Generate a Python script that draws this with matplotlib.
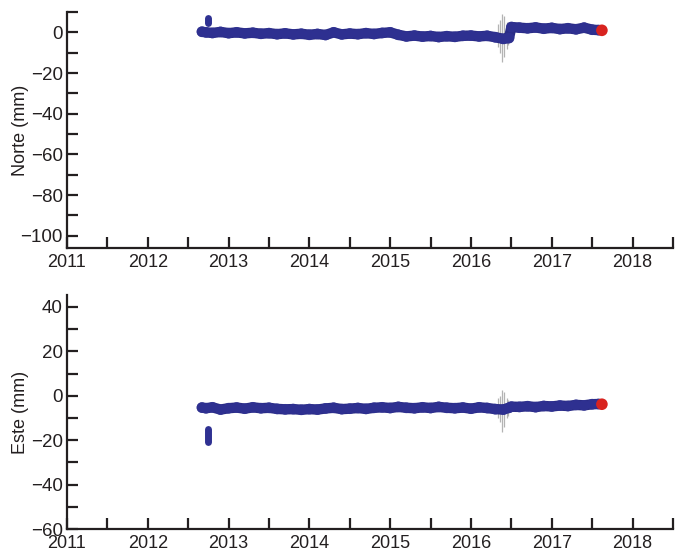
import matplotlib
matplotlib.use("Agg")
import matplotlib.pyplot as plt
from matplotlib.ticker import MultipleLocator, FuncFormatter

plt.rcParams['font.family'] = ['Liberation Sans Narrow', 'Liberation Sans', 'DejaVu Sans']
plt.rcParams['font.size'] = 13

# ---- data ----
t = [2012.67, 2012.72, 2012.80, 2012.90, 2013.00, 2013.10, 2013.20, 2013.30, 2013.40, 2013.50,
     2013.60, 2013.70, 2013.80, 2013.90, 2014.00, 2014.10, 2014.20, 2014.30, 2014.40, 2014.50,
     2014.60, 2014.70, 2014.80, 2014.90, 2015.00, 2015.10, 2015.20, 2015.30, 2015.40, 2015.50,
     2015.60, 2015.70, 2015.80, 2015.90, 2016.00, 2016.10, 2016.20, 2016.30, 2016.40, 2016.47,
     2016.50, 2016.60, 2016.70, 2016.80, 2016.90, 2017.00, 2017.10, 2017.20, 2017.30, 2017.40,
     2017.50, 2017.58]

norte = [0.3, 0.0, -0.3, 0.2, -0.4, 0.0, -0.5, -0.2, -0.7, -0.4,
         -0.9, -0.5, -1.0, -0.7, -1.2, -0.8, -1.3, 0.0, -1.0, -0.6,
         -0.9, -0.4, -0.8, -0.3, 0.0, -1.2, -2.0, -1.6, -2.1, -1.8,
         -2.3, -1.9, -2.2, -1.7, -1.6, -2.0, -1.7, -2.4, -3.2, -2.8,
         2.6, 2.3, 2.0, 2.4, 1.8, 2.2, 1.6, 2.0, 1.5, 2.3,
         1.3, 1.1]

este = [-5.3, -5.6, -5.2, -6.2, -5.6, -5.3, -5.8, -5.2, -5.6, -5.4,
        -5.9, -6.1, -6.0, -6.3, -6.0, -6.2, -5.7, -5.4, -6.0, -5.8,
        -5.5, -5.9, -5.4, -5.2, -5.5, -5.0, -5.4, -5.6, -5.2, -5.5,
        -5.0, -5.4, -5.6, -5.3, -5.8, -5.2, -5.5, -6.0, -6.2, -5.4,
        -4.9, -5.0, -4.7, -5.1, -4.6, -4.8, -4.4, -4.6, -4.1, -4.3,
        -3.8, -3.7]

# outliers
norte_out_t = [2012.75, 2012.75, 2012.75]
norte_out_v = [4.5, 5.8, 7.0]
este_out_t = [2012.75, 2012.75, 2012.75, 2012.75, 2012.75]
este_out_v = [-15.0, -16.5, -18.0, -19.5, -21.0]

# last (red) point
last_t = 2017.62
norte_last = 1.0
este_last = -3.8

# grey error bars near 2016.4
err_t = [2016.33, 2016.36, 2016.38, 2016.41, 2016.44, 2016.46]
norte_err_lo = [-7.0, -10.0, -14.5, -12.0, -8.0, -6.0]
norte_err_hi = [4.0, 6.0, 9.0, 8.0, 5.0, 4.0]
este_err_lo = [-10.0, -12.0, -16.5, -14.0, -10.0, -9.0]
este_err_hi = [-1.0, 0.0, 2.5, 1.5, -1.0, -2.0]

year_ticks = [2011, 2012, 2013, 2014, 2015, 2016, 2017, 2018]

NAVY = '#2a2c85'
NAVY2 = '#2f3192'
RED = '#d8231f'
TXT = '#231f20'

W, H = 687, 553
fig = plt.figure(figsize=(W / 100, H / 100), dpi=100)

left = 67 / W
width = (673 - 67) / W
ax1 = fig.add_axes([left, 1 - 248 / H, width, (248 - 12) / H])
ax2 = fig.add_axes([left, 1 - 529 / H, width, (529 - 295) / H])


def yfmt(v, pos):
    v = int(round(v))
    return ('\u2212' + str(-v)) if v < 0 else str(v)


def style(ax, ylim, ylabel):
    ax.set_xlim(2011, 2018.5)
    ax.set_ylim(*ylim)
    for s in ['top', 'right']:
        ax.spines[s].set_visible(False)
    for s in ['left', 'bottom']:
        ax.spines[s].set_linewidth(1.6)
        ax.spines[s].set_color(TXT)
    ax.xaxis.set_minor_locator(MultipleLocator(0.5))
    ax.set_xticks(year_ticks)
    ax.set_xticklabels([str(y) for y in year_ticks])
    ax.yaxis.set_major_locator(MultipleLocator(20))
    ax.yaxis.set_minor_locator(MultipleLocator(10))
    ax.yaxis.set_major_formatter(FuncFormatter(yfmt))
    ax.tick_params(which='both', direction='in', length=8, width=1.6, color=TXT,
                   labelcolor=TXT)
    ax.tick_params(axis='x', which='both', pad=4, labelsize=13)
    ax.tick_params(axis='y', which='both', pad=3, labelsize=13.5)
    ax.set_ylabel(ylabel, fontsize=13, color=TXT)
    ax.yaxis.set_label_coords(-0.062, 0.5)
    ax.set_facecolor('white')


def draw(ax, vals, out_t, out_v, lastv, elo, ehi):
    ax.vlines(err_t, elo, ehi, color='#a0a0a0', lw=0.9, alpha=0.8, zorder=1)
    ax.plot(t, vals, color=NAVY, lw=7.5, solid_capstyle='round', solid_joinstyle='round', zorder=2)
    ax.scatter(t, vals, s=60, color=NAVY2, edgecolors='none', alpha=0.9, zorder=3)
    ax.plot(out_t, out_v, color=NAVY2, lw=5, solid_capstyle='round', zorder=3)
    ax.scatter([last_t], [lastv], s=70, color=RED, edgecolors='none', zorder=4)


style(ax1, (-106, 10), 'Norte (mm)')
style(ax2, (-60, 45.4), 'Este (mm)')
draw(ax1, norte, norte_out_t, norte_out_v, norte_last, norte_err_lo, norte_err_hi)
draw(ax2, este, este_out_t, este_out_v, este_last, este_err_lo, este_err_hi)

fig.savefig('out.png', dpi=100)
